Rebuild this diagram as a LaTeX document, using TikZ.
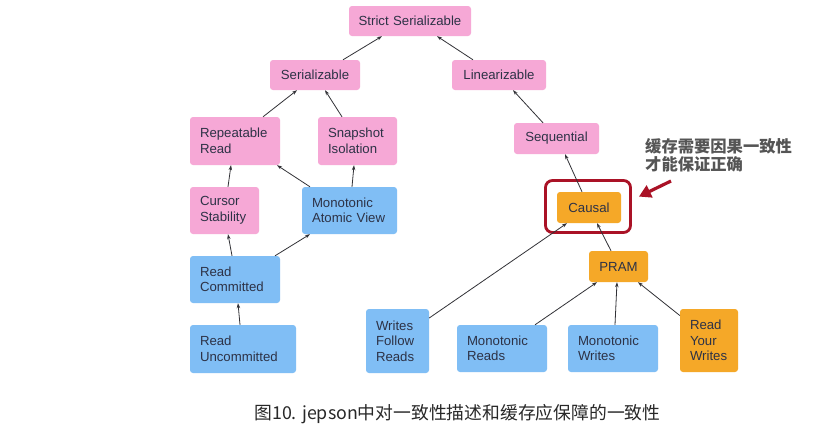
\documentclass[tikz,border=0pt]{standalone}
\usepackage{fontspec}
\setmainfont{Liberation Sans}
\newfontfamily\cjk{Noto Sans CJK SC}
\usetikzlibrary{arrows.meta}
\definecolor{pinkbox}{RGB}{246,168,214}
\definecolor{bluebox}{RGB}{128,190,245}
\definecolor{orangebox}{RGB}{245,168,40}
\definecolor{txt}{RGB}{45,50,70}
\definecolor{darkred}{RGB}{170,18,38}
\definecolor{edge}{RGB}{50,50,55}
\definecolor{notegray}{RGB}{85,85,85}
\definecolor{capgray}{RGB}{40,40,40}
\tikzset{
  box/.style={rounded corners=3pt, inner xsep=10pt, inner ysep=0pt, text=txt,
    font=\fontsize{13.2}{15.5}\selectfont, align=left},
  pinkn/.style={box, fill=pinkbox},
  bluen/.style={box, fill=bluebox},
  orangen/.style={box, fill=orangebox},
  conn/.style={draw=edge, line width=0.8pt, -{Stealth[length=5pt,width=3.5pt]}},
}
\begin{document}
\begin{tikzpicture}[x=1pt,y=-1pt]
\useasboundingbox[fill=white] (0,0) rectangle (823,429);
% nodes
\node[pinkn, align=center, inner xsep=3pt, text width=116pt, minimum height=30pt] (ss) at (410,21) {Strict Serializable};
\node[pinkn, align=center, inner xsep=3pt, text width=84pt, minimum height=30pt] (ser) at (315,75) {Serializable};
\node[pinkn, align=center, inner xsep=3pt, text width=88pt, minimum height=30pt] (lin) at (499,75) {Linearizable};
\node[pinkn, text width=70pt, minimum height=48pt] (rr) at (235,141) {Repeatable\\Read};
\node[pinkn, text width=59pt, minimum height=48pt] (si) at (357.5,141) {Snapshot\\Isolation};
\node[pinkn, align=center, inner xsep=3pt, text width=79pt, minimum height=31pt] (seq) at (556.5,138.5) {Sequential};
\node[pinkn, text width=49pt, minimum height=47pt] (cs) at (224.5,210.5) {Cursor\\Stability};
\node[bluen, text width=75pt, minimum height=47pt] (mav) at (349.5,210.5) {Monotonic\\Atomic View};
\node[bluen, text width=70pt, minimum height=47pt] (rc) at (235,279.5) {Read\\Committed};
\node[bluen, text width=86pt, minimum height=48pt] (ru) at (243,349) {Read\\Uncommitted};
\node[bluen, text width=43pt, minimum height=64pt] (wfr) at (397.5,341) {Writes\\Follow\\Reads};
\node[orangen, align=center, inner xsep=3pt, text width=58pt, minimum height=31pt] (causal) at (589,207.5) {Causal};
\node[orangen, align=center, inner xsep=3pt, text width=53pt, minimum height=31pt] (pram) at (618.5,266.5) {PRAM};
\node[bluen, text width=70pt, minimum height=47pt] (mr) at (502,348.5) {Monotonic\\Reads};
\node[bluen, text width=70pt, minimum height=47pt] (mw) at (613,348.5) {Monotonic\\Writes};
\node[orangen, text width=38pt, minimum height=63pt] (ryw) at (709,340.5) {Read\\Your\\Writes};
% highlight box
\node[draw=darkred, line width=2.8pt, rounded corners=7pt, minimum width=85pt, minimum height=52pt, inner sep=0pt] (hl) at (588,206.5) {};
% annotation
\node[anchor=north west, inner sep=0pt, text=notegray, font=\cjk\fontsize{16.3}{18}\selectfont\bfseries, align=left] (note) at (645,138) {缓存需要因果一致性\\才能保证正确};
\coordinate (arrtail) at (671,181);
\draw[darkred, line width=3.2pt, -{Triangle[length=12pt,width=13pt]}] (arrtail) -- ([xshift=7pt,yshift=-17.5pt]hl.north east);
% connectors
\draw[conn] ([xshift=28pt]ser.north) -- ([xshift=-28pt]ss.south);
\draw[conn] ([xshift=-26pt]lin.north) -- ([xshift=27pt]ss.south);
\draw[conn] ([xshift=28pt]rr.north) -- ([xshift=-18pt]ser.south);
\draw[conn] ([xshift=-15.5pt]si.north) -- ([xshift=10pt]ser.south);
\draw[conn] ([xshift=-13.5pt]seq.north) -- ([xshift=14pt]lin.south);
\draw[conn] ([xshift=-7pt]causal.north) -- ([xshift=8.5pt]seq.south);
\draw[conn] ([xshift=3.5pt]cs.north) -- ([xshift=-4pt]rr.south);
\draw[conn] ([xshift=-39.5pt]mav.north) -- ([xshift=42pt]rr.south);
\draw[conn] ([xshift=2.5pt]mav.north) -- ([xshift=-3.5pt]si.south);
\draw[conn] ([xshift=-3pt]rc.north) -- ([xshift=3.5pt]cs.south);
\draw[conn] ([xshift=40pt]rc.north) -- ([xshift=-39.5pt]mav.south);
\draw[conn] ([xshift=-3pt]ru.north) -- ([xshift=3pt]rc.south);
\draw[conn] ([yshift=23pt]wfr.east) -- ([xshift=-22pt]causal.south);
\draw[conn] ([xshift=-7.5pt]pram.north) -- ([xshift=8pt]causal.south);
\draw[conn] ([xshift=33pt]mr.north) -- ([xshift=-21.5pt]pram.south);
\draw[conn] ([xshift=2pt]mw.north) -- ([xshift=-1.5pt]pram.south);
\draw[conn] ([yshift=25pt]ryw.west) -- ([xshift=19.5pt]pram.south);
% caption
\node[inner sep=0pt, text=capgray, font=\cjk\fontsize{17.8}{20}\selectfont] (cap) at (457.5,414) {图10. jepson中对一致性描述和缓存应保障的一致性};
\end{tikzpicture}
\end{document}
